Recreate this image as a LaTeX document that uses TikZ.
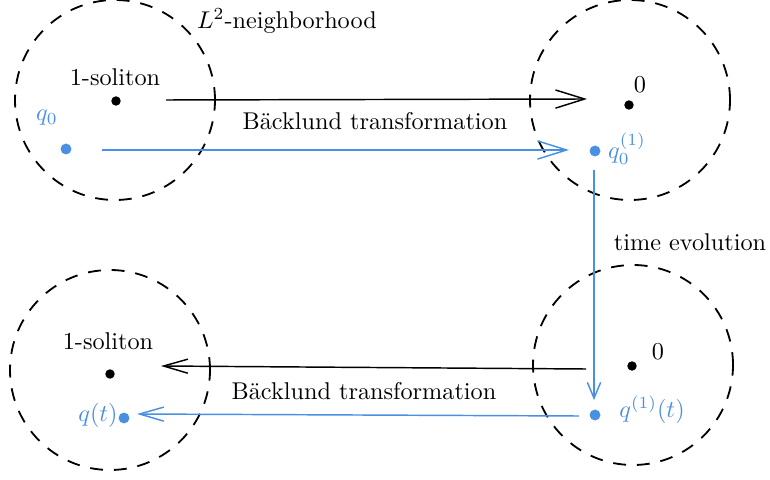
\documentclass[tikz,border=0pt]{standalone}
\usetikzlibrary{arrows.meta}
\definecolor{qblue}{RGB}{74,144,226}
\begin{document}
\begin{tikzpicture}[x=0.4125pt,y=-0.4125pt,
  nbhd/.style={draw=black,dash pattern=on 5.3pt off 4.5pt,line width=0.75pt},
  bdot/.style={circle,fill=black,inner sep=0pt,minimum size=3.9pt},
  qdot/.style={circle,fill=qblue,inner sep=0pt,minimum size=4.5pt},
  lbl/.style={inner sep=1pt},
  qlbl/.style={inner sep=1pt,text=qblue},
  bigtip/.style={-{Straight Barb[length=12pt,width=7.5pt,line width=0.6pt]}},
  midtip/.style={-{Straight Barb[length=10pt,width=5.8pt,line width=0.6pt]}},
  smalltip/.style={-{Straight Barb[length=6.5pt,width=5.5pt,line width=0.6pt]}},
  barr/.style={draw=black,line width=0.6pt},
  qarr/.style={draw=qblue,line width=0.6pt}]
\useasboundingbox (0,0) rectangle (770,480);
% neighborhoods
\draw[nbhd] (115,100) circle[radius=41.25pt];
\draw[nbhd] (630,100) circle[radius=41.25pt];
\draw[nbhd] (110,370) circle[radius=41.25pt];
\draw[nbhd] (633,365) circle[radius=41.25pt];
\node[lbl] (nb) at (287,21) {$L^2$-neighborhood};
% top-left
\node[bdot] (s1) at (116,101) {};
\node[lbl] (s1l) at (115,77) {1-soliton};
\node[qdot] (q0) at (66,149) {};
\node[qlbl] (q0l) at (47,118) {$q_0$};
% top-right
\node[bdot] (z1) at (629,105) {};
\node[lbl] (z1l) at (640,85) {$0$};
\node[qdot] (q1) at (595,151) {};
\node[qlbl] (q1l) at (627,149) {$q_0^{(1)}$};
% bottom-right
\node[bdot] (z2) at (632,366) {};
\node[lbl] (z2l) at (658,352) {$0$};
\node[qdot] (q1t) at (595,415) {};
\node[qlbl] (q1tl) at (652,410) {$q^{(1)}(t)$};
% bottom-left
\node[bdot] (s2) at (110,374) {};
\node[lbl] (s2l) at (108,341) {1-soliton};
\node[qdot] (qt) at (124,418) {};
\node[qlbl] (qtl) at (98,415) {$q(t)$};
% arrow endpoints
\coordinate (a1s) at (166,100);
\coordinate (a1e) at (587,99);
\coordinate (a2s) at (102,150);
\coordinate (a2e) at (569,150);
\coordinate (a3s) at (594,170);
\coordinate (a3e) at (594,400);
\coordinate (a4s) at (586,369);
\coordinate (a4e) at (161,366);
\coordinate (a5s) at (579,416);
\coordinate (a5e) at (137,414);
\draw[barr,bigtip] (a1s) -- (a1e);
\draw[qarr,bigtip] (a2s) -- (a2e);
\draw[qarr,smalltip] (a3s) -- (a3e);
\draw[barr,midtip] (a4s) -- (a4e);
\draw[qarr,midtip] (a5s) -- (a5e);
\node[lbl] (bt1) at (375,121) {B\"acklund transformation};
\node[lbl] (te) at (690,242) {time evolution};
\node[lbl] (bt2) at (364,391) {B\"acklund transformation};
\end{tikzpicture}
\end{document}
